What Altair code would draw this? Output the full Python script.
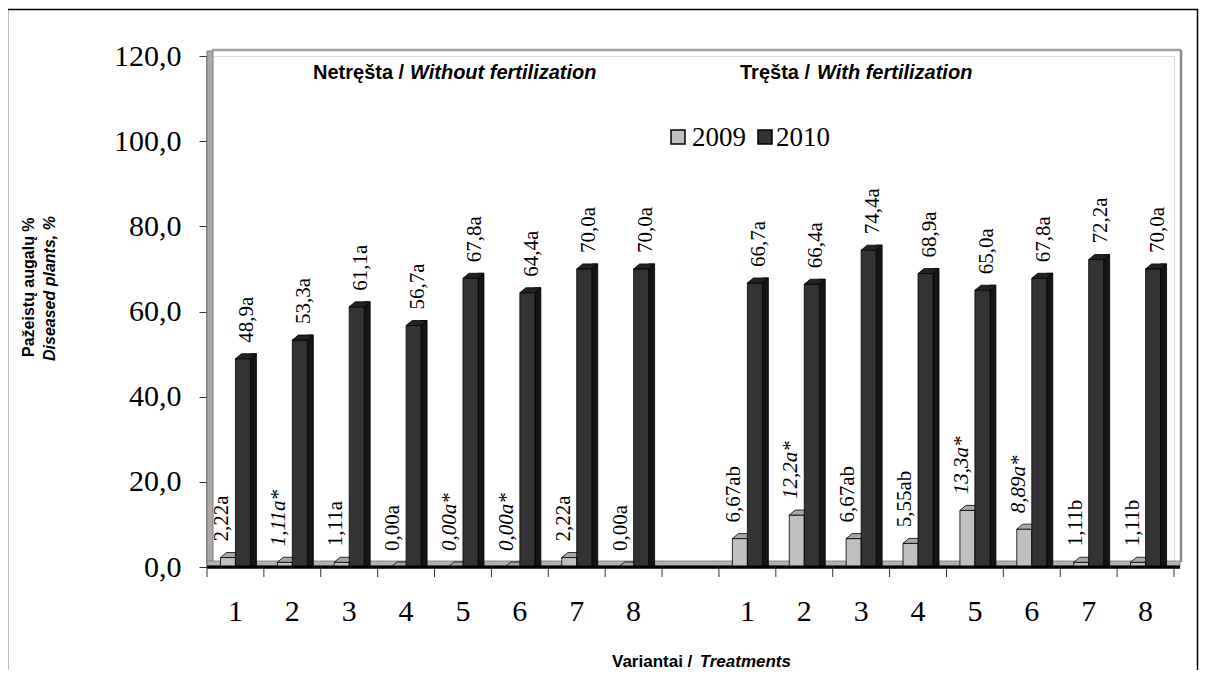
import altair as alt
import pandas as pd

# ---------------- data ----------------
treatments = ["1", "2", "3", "4", "5", "6", "7", "8"]
groups = ["Netręšta", "Tręšta"]

unfert_2009 = [2.22, 1.11, 1.11, 0.00, 0.00, 0.00, 2.22, 0.00]
unfert_2010 = [48.9, 53.3, 61.1, 56.7, 67.8, 64.4, 70.0, 70.0]
fert_2009 = [6.67, 12.2, 6.67, 5.55, 13.3, 8.89, 1.11, 1.11]
fert_2010 = [66.7, 66.4, 74.4, 68.9, 65.0, 67.8, 72.2, 70.0]

unfert_2009_lbl = ["2,22a", "1,11a*", "1,11a", "0,00a", "0,00a*", "0,00a*", "2,22a", "0,00a"]
unfert_2010_lbl = ["48,9a", "53,3a", "61,1a", "56,7a", "67,8a", "64,4a", "70,0a", "70,0a"]
fert_2009_lbl = ["6,67ab", "12,2a*", "6,67ab", "5,55ab", "13,3a*", "8,89a*", "1,11b", "1,11b"]
fert_2010_lbl = ["66,7a", "66,4a", "74,4a", "68,9a", "65,0a", "67,8a", "72,2a", "70,0a"]

italic_2009 = [False, True, False, False, True, True, False, False]

y_ticks = [0, 20, 40, 60, 80, 100, 120]

# ---------------- tables ----------------
def build(vals_a, vals_b, lbl_a, lbl_b, italic):
    rows = []
    for g, (vals, lbls) in enumerate([(vals_a, lbl_a), (vals_b, lbl_b)]):
        for i, t in enumerate(treatments):
            rows.append({
                "group": groups[g],
                "treat": t,
                "slot": g * 9 + i + 0.5,
                "value": vals[i],
                "label": lbls[i],
                "italic": bool(italic[i]) if italic else False,
                "zero": 0,
            })
    return pd.DataFrame(rows)

df09 = build(unfert_2009, fert_2009, unfert_2009_lbl, fert_2009_lbl, italic_2009)
df10 = build(unfert_2010, fert_2010, unfert_2010_lbl, fert_2010_lbl, None)

bounds = pd.DataFrame({"b": list(range(0, 9)) + list(range(9, 18))})
one = pd.DataFrame({"d": [0]})

W, H = 967, 511
BW, DX, DY = 15, 6, 5

xs = alt.Scale(domain=[0, 17], nice=False, zero=False)
ys = alt.Scale(domain=[0, 120], nice=False)

SERIF = "Liberation Serif"
SANS = "Liberation Sans"

yaxis = alt.Axis(
    values=y_ticks,
    labelExpr="replace(format(datum.value, '.1f'), '.', ',')",
    grid=False, title="", tickSize=8, tickColor="#333", tickWidth=1,
    domainColor="#222", domainWidth=2,
    labelFont=SERIF, labelFontSize=30, labelColor="black", labelPadding=18,
)

TOP_SHAPE = "M-1,0.238L0.4286,0.238L1,-0.238L-0.4286,-0.238Z"

# ---------------- decoration ----------------
base1 = alt.Chart(one)
frame = base1.mark_rect(fill="transparent", stroke="black", strokeWidth=1.5).encode(
    x=alt.value(-199.5), x2=alt.value(990.5), y=alt.value(-46.5), y2=alt.value(700))
wall_left = base1.mark_rect(fill="#a9a9a9", stroke="#7a7a7a", strokeWidth=1).encode(
    x=alt.value(0), x2=alt.value(6), y=alt.value(-5), y2=alt.value(508))
wall_top = base1.mark_rule(color="#a0a0a0", strokeWidth=2.5).encode(
    x=alt.value(5), x2=alt.value(974), y=alt.value(-6))
wall_right = base1.mark_rule(color="#8a8a8a", strokeWidth=2.5).encode(
    x=alt.value(974), y=alt.value(-6), y2=alt.value(506))
floor = base1.mark_rect(fill="#b3b3b3", stroke="#777", strokeWidth=0.8).encode(
    x=alt.value(0), x2=alt.value(973), y=alt.value(505), y2=alt.value(510))
floor_line = base1.mark_rect(fill="black").encode(
    x=alt.value(0), x2=alt.value(973), y=alt.value(509.5), y2=alt.value(512.8))
xticks = alt.Chart(bounds).mark_rule(color="#333", strokeWidth=1).encode(
    x=alt.X("b:Q", scale=xs, axis=None), y=alt.value(511), y2=alt.value(521))
xlabels = alt.Chart(df10).mark_text(font=SERIF, fontSize=30, color="black",
                                    baseline="alphabetic", align="center").encode(
    x=alt.X("slot:Q", scale=xs, axis=None), y=alt.value(565), text="treat:N")


# ---------------- bars ----------------
def bar_layers(df, x0, front, side, top):
    b = alt.Chart(df)
    front_l = b.mark_rect(xOffset=x0, x2Offset=x0 + BW, fill=front, stroke="black",
                          strokeWidth=0.8).encode(
        x=alt.X("slot:Q", scale=xs, axis=None), x2="slot",
        y=alt.Y("value:Q", scale=ys, axis=yaxis), y2="zero")
    side_l = b.mark_rect(xOffset=x0 + BW, x2Offset=x0 + BW + DX, yOffset=-DY,
                         fill=side, stroke="black", strokeWidth=0.8).encode(
        x=alt.X("slot:Q", scale=xs, axis=None), x2="slot",
        y=alt.Y("value:Q", scale=ys), y2="zero")
    top_l = b.mark_point(shape=TOP_SHAPE, size=(BW + DX) ** 2, filled=True, fill=top,
                         stroke="black", strokeWidth=0.8, opacity=1,
                         xOffset=x0 + (BW + DX) / 2, yOffset=-DY / 2).encode(
        x=alt.X("slot:Q", scale=xs, axis=None), y=alt.Y("value:Q", scale=ys))
    return [side_l, front_l, top_l]


bars09 = bar_layers(df09, -BW, "#c0c0c0", "#8c8c8c", "#a8a8a8")
bars10 = bar_layers(df10, 0, "#333333", "#151515", "#222222")


def label_layers(df, xoff):
    out = []
    for it in (False, True):
        out.append(
            alt.Chart(df).transform_filter(
                "datum.italic" if it else "!datum.italic"
            ).mark_text(angle=270, align="left", baseline="middle", dx=16,
                        xOffset=xoff, font=SERIF, fontSize=21, color="black",
                        fontStyle="italic" if it else "normal").encode(
                x=alt.X("slot:Q", scale=xs, axis=None), y=alt.Y("value:Q", scale=ys),
                text="label:N")
        )
    return out


labels = label_layers(df09, -13) + label_layers(df10, 12)

# ---------------- texts ----------------
def txt(s, x, y, size=16, weight="bold", style="normal", align="left", angle=0,
        font=SANS, baseline="alphabetic"):
    return base1.mark_text(text=s, align=align, baseline=baseline, font=font,
                           fontSize=size, fontWeight=weight, fontStyle=style,
                           angle=angle, color="black").encode(
        x=alt.value(x), y=alt.value(y))


texts = [
    txt("Netręšta /", 106, 23, size=20),
    txt("Without fertilization", 203, 23, size=20, style="italic"),
    txt("Tręšta /", 533, 23, size=20),
    txt("With fertilization", 610, 23, size=20, style="italic"),
    txt("Variantai /", 405, 611, size=17),
    txt("Treatments", 584, 611, size=17, style="italic", align="right"),
    txt("Pažeistų augalų %", -178, 301, size=16, align="left", angle=270,
        baseline="middle"),
    txt("Diseased plants, %", -157, 305, size=16, style="italic", align="left",
        angle=270, baseline="middle"),
    # legend
    txt("2009", 485, 90, size=27, weight="normal", font=SERIF),
    txt("2010", 569, 90, size=27, weight="normal", font=SERIF),
]
leg = [
    base1.mark_rect(fill="#c0c0c0", stroke="black", strokeWidth=1.5).encode(
        x=alt.value(464), x2=alt.value(478), y=alt.value(74), y2=alt.value(88)),
    base1.mark_rect(fill="#333333", stroke="black", strokeWidth=1.5).encode(
        x=alt.value(551), x2=alt.value(565), y=alt.value(74), y2=alt.value(88)),
]

chart = alt.layer(
    frame, wall_left, wall_top, wall_right, floor,
    *bars09, *bars10, floor_line, xticks, xlabels, *labels, *texts, *leg
).properties(
    width=W, height=H,
    autosize=alt.AutoSizeParams(type="none"),
    padding={"left": 199, "top": 48, "right": 25, "bottom": 103},
).configure_view(stroke="transparent").configure(background="white")

chart.save("out.html", embed_options={"renderer": "svg", "actions": False})
